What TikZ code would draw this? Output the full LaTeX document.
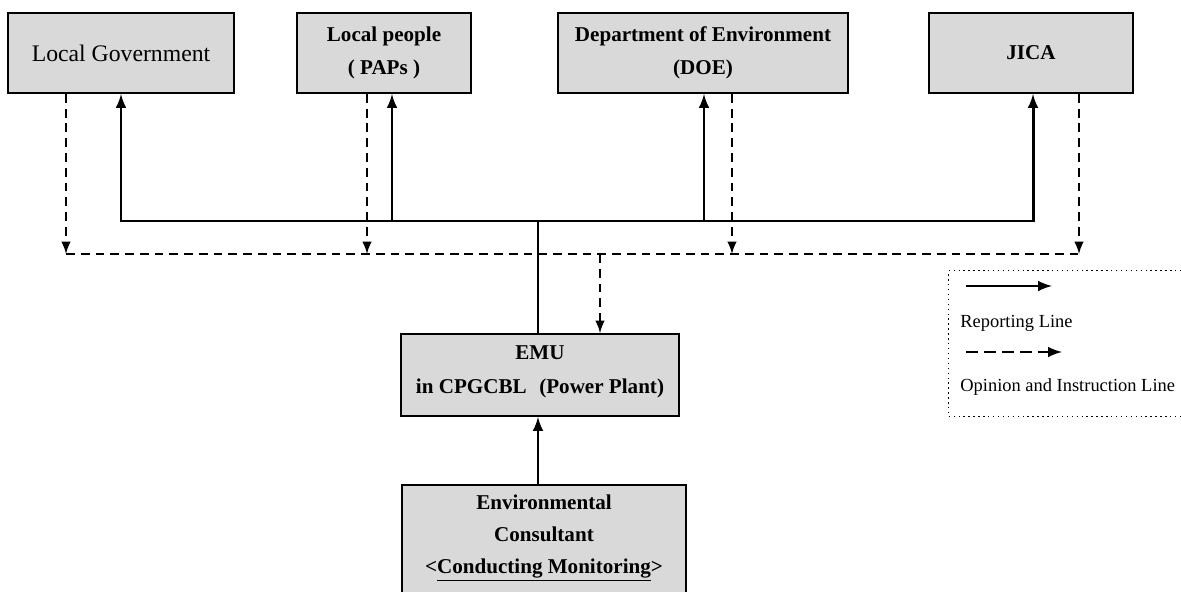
\documentclass[tikz,border=0pt]{standalone}
\usepackage{fontspec}
\setmainfont{Liberation Serif}
\definecolor{boxgray}{RGB}{217,217,217}

\begin{document}
\begin{tikzpicture}[x=0.02cm,y=-0.02cm,
        box/.style={draw,line width=1.1pt,fill=boxgray,minimum height=1.6cm,align=center,
            font=\bfseries\fontsize{12}{19}\selectfont},
        boxtext/.style={align=center,inner sep=0pt,font=\bfseries\fontsize{12}{18.2}\selectfont},
        keytext/.style={anchor=west,inner sep=0pt,font=\fontsize{10.5}{12}\selectfont},
        report/.style={-latex,line width=1.7pt},
        instr/.style={-latex,line width=1.4pt,dash pattern=on 5pt off 3.4pt}]

        \useasboundingbox (0,0) rectangle (1181,592);
        \clip (0,0) rectangle (1181,592);

        % Define the boxes of the organisation
        \node[box,minimum width=4.52cm,font=\fontsize{13.5}{16}\selectfont] (lg) at (121,53) {Local Government};
        \node[box,minimum width=3.48cm] (lp) at (384,53) {Local people\\( PAPs )};
        \node[box,minimum width=5.8cm] (doe) at (703,53) {Department of Environment\\(DOE)};
        \node[box,minimum width=4.08cm] (jica) at (1031,53) {JICA};
        \node[box,minimum width=5.56cm,minimum height=1.64cm] (emu) at (540,375) {};
        \node[boxtext,font=\bfseries\fontsize{12}{19}\selectfont] (emuText) at (540,372) {EMU\\in CPGCBL\hspace{0.6em}(Power Plant)};
        \node[box,minimum width=5.68cm,minimum height=3cm,anchor=north] (cons) at (544,484) {};
        \node[boxtext] (consText) at (544,538) {Environmental\\Consultant\\<\underline{Conducting Monitoring}>};

        % Define coordinates for the reporting and opinion lines
        \coordinate (busLG) at (121,221);
        \coordinate (busLP) at (392,221);
        \coordinate (trunk) at (538,221);
        \coordinate (busDOE) at (704,221);
        \coordinate (busJICA) at (1033,221);
        \coordinate (optLG) at (66,254);
        \coordinate (optLP) at (367,254);
        \coordinate (optEMU) at (600,254);
        \coordinate (optDOE) at (732,254);
        \coordinate (optJICA) at (1079,254);

        % Draw the reporting lines
        \draw[line width=1.7pt,line cap=rect] (busLG) -- (busJICA);
        \draw[report] (busLG) -- (busLG |- lg.south);
        \draw[report] (busLP) -- (busLP |- lp.south);
        \draw[report] (busDOE) -- (busDOE |- doe.south);
        \draw[report] (busJICA) -- (busJICA |- jica.south);
        \draw[line width=1.7pt] (trunk) -- (trunk |- emu.north);
        \draw[report] (trunk |- cons.north) -- (trunk |- emu.south);

        % Draw the opinion and instruction lines
        \draw[line width=1.4pt,dash pattern=on 5pt off 3.4pt] (optLG) -- (optJICA);
        \draw[instr] (optLG |- lg.south) -- (optLG);
        \draw[instr] (optLP |- lp.south) -- (optLP);
        \draw[instr] (optDOE |- doe.south) -- (optDOE);
        \draw[instr] (optJICA |- jica.south) -- (optJICA);
        \draw[instr] (optEMU) -- (optEMU |- emu.north);

        % Add a legend
        \node[draw,dotted,line width=0.8pt,minimum width=5cm,minimum height=2.92cm,anchor=north west] (legend) at (948,270) {};
        \coordinate (keyRepA) at (966,286);
        \coordinate (keyRepB) at (1052,286);
        \coordinate (keyOptA) at (966,352);
        \coordinate (keyOptB) at (1062,352);
        \draw[report] (keyRepA) -- (keyRepB);
        \node[keytext] (keyRep) at (960,323) {Reporting Line};
        \draw[-latex,line width=1.7pt,dash pattern=on 6.8pt off 3.4pt] (keyOptA) -- (keyOptB);
        \node[keytext] (keyOpt) at (960,387) {Opinion and Instruction Line};

    \end{tikzpicture}
\end{document}
